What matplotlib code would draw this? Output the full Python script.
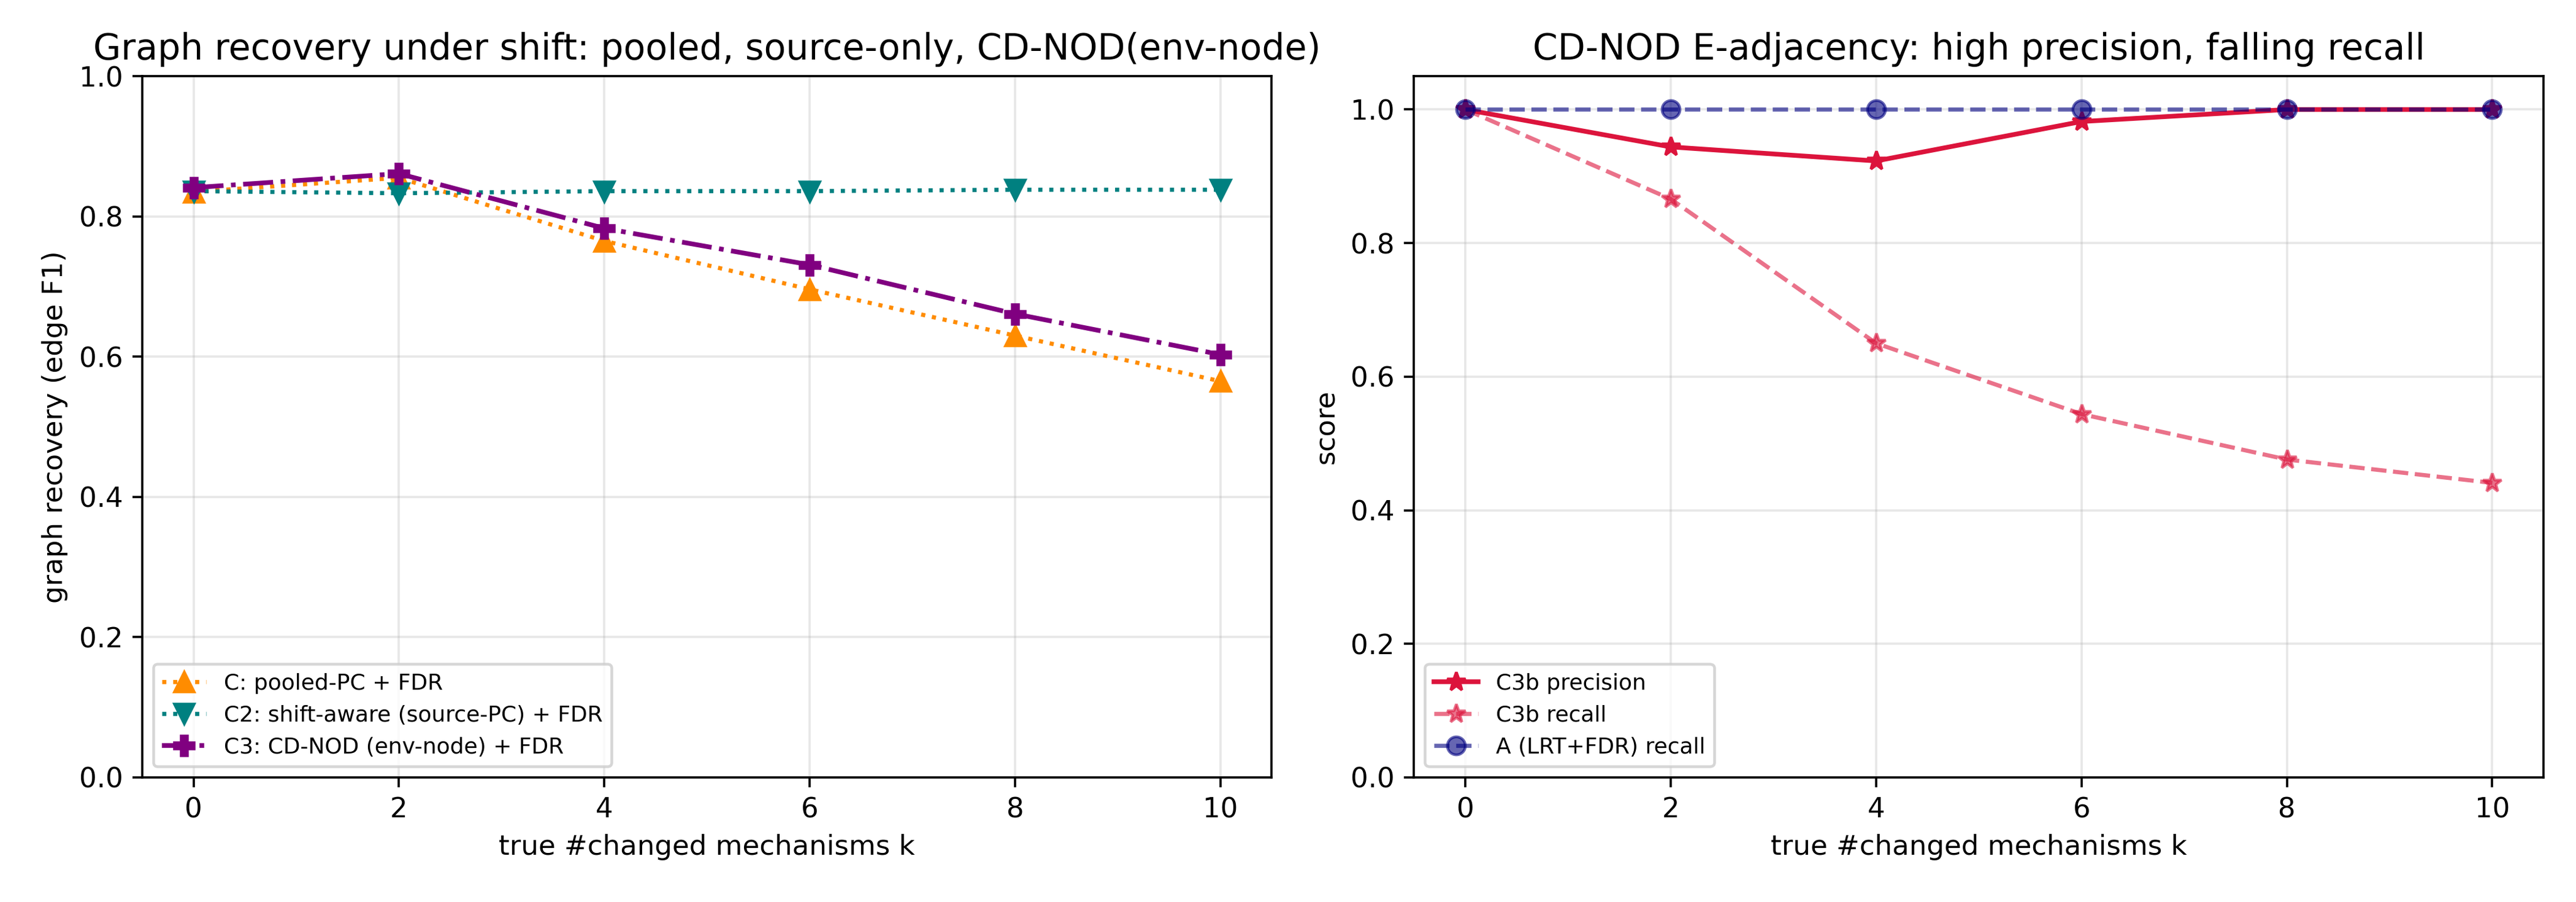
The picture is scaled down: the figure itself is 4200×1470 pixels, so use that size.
import matplotlib
matplotlib.use("Agg")
import matplotlib.pyplot as plt

k = [0, 2, 4, 6, 8, 10]
f1_pooled = [0.835, 0.855, 0.765, 0.696, 0.630, 0.565]
f1_source = [0.836, 0.833, 0.836, 0.836, 0.838, 0.838]
f1_cdnod = [0.841, 0.861, 0.783, 0.731, 0.661, 0.603]

c3b_precision = [1.0, 0.944, 0.923, 0.982, 1.0, 1.0]
c3b_recall = [1.0, 0.866, 0.650, 0.544, 0.476, 0.441]
a_recall = [1.0, 1.0, 1.0, 1.0, 1.0, 1.0]

DPI = 324
fig, (ax1, ax2) = plt.subplots(1, 2, figsize=(4200 / DPI, 1470 / DPI), dpi=DPI)
fig.subplots_adjust(left=0.0552, right=0.9874, top=0.9156, bottom=0.1381, wspace=0.126)

ax1.plot(k, f1_pooled, linestyle=':', marker='^', color='darkorange', markersize=7,
         linewidth=1.5, label='C: pooled-PC + FDR')
ax1.plot(k, f1_source, linestyle=':', marker='v', color='teal', markersize=7,
         linewidth=1.5, label='C2: shift-aware (source-PC) + FDR')
ax1.plot(k, f1_cdnod, linestyle='-.', marker='P', color='purple', markersize=7,
         linewidth=1.7, label='C3: CD-NOD (env-node) + FDR')
ax1.set_ylim(0, 1.0)
ax1.set_xticks(k)
ax1.set_xlabel('true #changed mechanisms k')
ax1.set_ylabel('graph recovery (edge F1)')
ax1.set_title('Graph recovery under shift: pooled, source-only, CD-NOD(env-node)', fontsize=13)
ax1.grid(True, alpha=0.3)
ax1.legend(loc='lower left', fontsize=8)

ax2.plot(k, c3b_precision, linestyle='-', marker='*', color='crimson', markersize=7,
         linewidth=1.7, label='C3b precision')
ax2.plot(k, c3b_recall, linestyle='--', marker='*', color='crimson', alpha=0.6, markersize=7,
         linewidth=1.5, label='C3b recall')
ax2.plot(k, a_recall, linestyle='--', marker='o', color='navy', alpha=0.6, markersize=6.5,
         linewidth=1.5, label='A (LRT+FDR) recall')
ax2.set_ylim(0, 1.05)
ax2.set_xticks(k)
ax2.set_xlabel('true #changed mechanisms k')
ax2.set_ylabel('score')
ax2.set_title('CD-NOD E-adjacency: high precision, falling recall', fontsize=13)
ax2.grid(True, alpha=0.3)
ax2.legend(loc='lower left', fontsize=8)

fig.savefig('out.png', dpi=DPI)
